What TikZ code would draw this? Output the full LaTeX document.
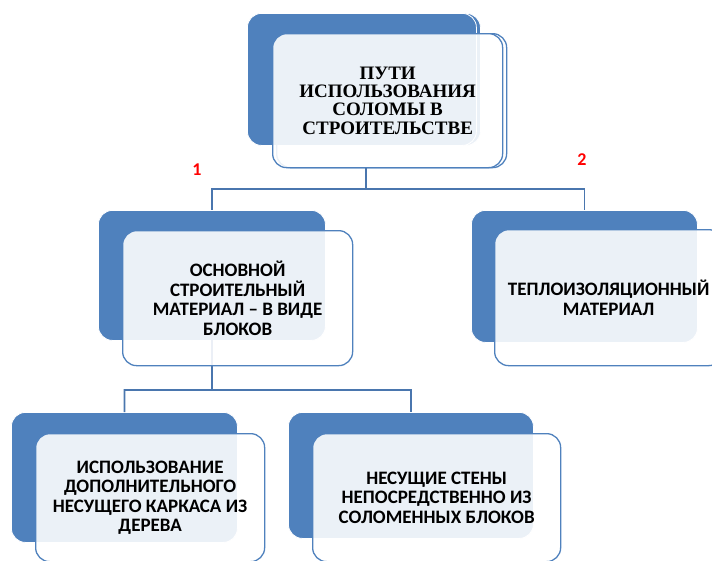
\documentclass[tikz,border=0pt]{standalone}
\usepackage{fontspec}
\setmainfont{Carlito}
\newfontfamily\serifbold{Liberation Serif}
\definecolor{accent}{HTML}{4F81BD}
\definecolor{linkcol}{HTML}{4A76AE}
\begin{document}
\begin{tikzpicture}[x=1pt,y=-1pt,
  backbox/.style={draw=white,line width=0.8pt,fill=accent,rounded corners=14pt,anchor=north west,inner sep=0pt},
  frontbox/.style={draw=accent,line width=1.3pt,fill=white,fill opacity=0.89,text opacity=1,rounded corners=14pt,anchor=north west,inner sep=0pt,align=center},
  sansbold/.style={font=\fontsize{19}{19.5}\selectfont\bfseries},
  link/.style={draw=linkcol,line width=1.8pt},
  numlabel/.style={text=red,font=\fontsize{18}{20}\selectfont\bfseries}]
\useasboundingbox (0,0) rectangle (712,560);
\coordinate (topjoin) at (366,189);
\coordinate (midjoin) at (212,390);
% top box (doubled)
\node[backbox,minimum width=229pt,minimum height=132pt] (topbackcopy) at (251,13) {};
\node[backbox,minimum width=229pt,minimum height=132pt] (topback) at (247,13) {};
\node[frontbox,fill opacity=0,draw=accent,minimum width=230pt,minimum height=134pt] (topfrontcopy) at (276,33) {};
\node[frontbox,minimum width=230pt,minimum height=134pt,font=\serifbold\fontsize{19}{18.2}\selectfont\bfseries] (topfront) at (272,33) {ПУТИ\\ИСПОЛЬЗОВАНИЯ\\СОЛОМЫ В\\СТРОИТЕЛЬСТВЕ};
% level 1 back boxes
\node[backbox,minimum width=227pt,minimum height=130pt] (b1back) at (98,210) {};
\node[backbox,minimum width=226pt,minimum height=132pt] (b2back) at (471,210) {};
% level 2 back boxes
\node[backbox,minimum width=226pt,minimum height=130pt] (b3back) at (11,412) {};
\node[backbox,minimum width=245pt,minimum height=126pt] (b4back) at (288,412) {};
% links
\draw[link] (topjoin |- topfront.south) -- (topjoin) -| (b1back.north);
\draw[link] (topjoin) -| (b2back.north);
\draw[link] (b1back.center) -- (midjoin) -| (b3back.north);
\draw[link] (midjoin) -| (b4back.north);
% front boxes
\node[frontbox,sansbold,minimum width=230pt,minimum height=135pt] (b1front) at (122,230) {ОСНОВНОЙ\\СТРОИТЕЛЬНЫЙ\\МАТЕРИАЛ – В ВИДЕ\\БЛОКОВ};
\node[frontbox,sansbold,minimum width=228pt,minimum height=136pt] (b2front) at (494,229) {ТЕПЛОИЗОЛЯЦИОННЫЙ\\МАТЕРИАЛ};
\node[frontbox,sansbold,minimum width=229pt,minimum height=128pt] (b3front) at (35,433) {ИСПОЛЬЗОВАНИЕ\\ДОПОЛНИТЕЛЬНОГО\\НЕСУЩЕГО КАРКАСА ИЗ\\ДЕРЕВА};
\node[frontbox,sansbold,minimum width=248pt,minimum height=128pt] (b4front) at (312,433) {НЕСУЩИЕ СТЕНЫ\\НЕПОСРЕДСТВЕННО ИЗ\\СОЛОМЕННЫХ БЛОКОВ};
% number labels
\node[numlabel] (n1) at (197,170) {1};
\node[numlabel] (n2) at (582,160) {2};
\end{tikzpicture}
\end{document}
